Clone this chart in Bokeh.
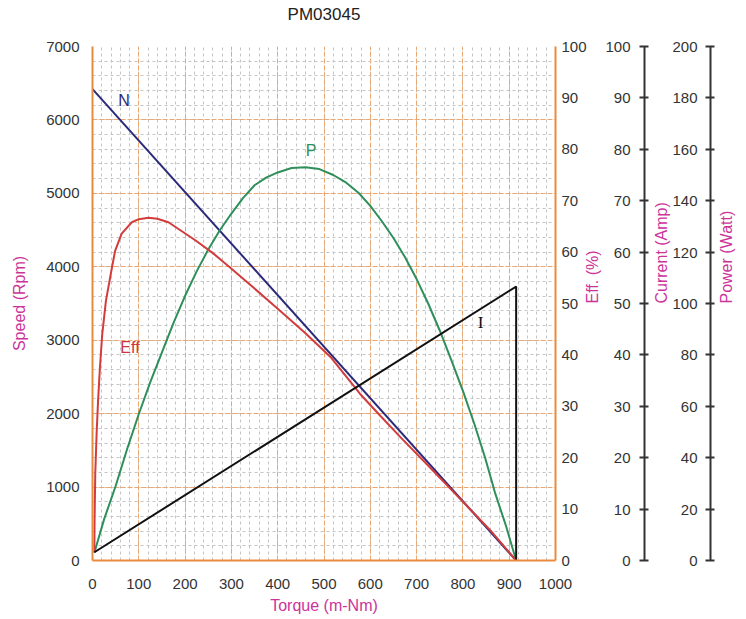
import math
from bokeh.plotting import figure
from bokeh.models import Range1d, LinearAxis, FixedTicker, SingleIntervalTicker, ColumnDataSource, Title
from bokeh.embed import file_html
from bokeh.resources import INLINE
from bokeh.core.properties import value

# ---------------- data ----------------
title_text = "PM03045"
torque_ticks = [0, 100, 200, 300, 400, 500, 600, 700, 800, 900, 1000]
speed_ticks = [0, 1000, 2000, 3000, 4000, 5000, 6000, 7000]
eff_ticks = [0, 10, 20, 30, 40, 50, 60, 70, 80, 90, 100]
cur_ticks = [0, 10, 20, 30, 40, 50, 60, 70, 80, 90, 100]
pow_ticks = [0, 20, 40, 60, 80, 100, 120, 140, 160, 180, 200]

# Speed N (rpm) vs torque (m-Nm)
n_torque = [0, 915]
n_speed = [6420, 0]

# Current I (A)
i_torque = [4, 915, 915]
i_current = [1.6, 53.3, 0]

# Efficiency (%)
eff_torque = [4, 4.5, 6, 9, 12, 16, 21, 29, 42, 49, 63, 85, 100, 121, 140, 164, 189,
              222, 260, 297, 350, 405, 460, 514, 578, 620, 665, 730, 795, 860, 915]
eff_values = [1.6, 8, 17, 25, 31, 37.5, 44, 50.5, 57, 60.3, 63.6, 65.8, 66.4, 66.7, 66.5,
              65.8, 64.3, 62.3, 59.8, 57, 52.9, 48.6, 44.2, 39.6, 32.4, 28.3, 24, 18, 11.9,
              5.8, 0]

# Output power (W)
p_torque = [4, 25, 50, 75, 100, 125, 150, 175, 200, 225, 250, 275, 300, 325, 350, 375,
            400, 430, 460, 490, 520, 548, 575, 600, 625, 650, 675, 700, 725, 750, 775,
            800, 825, 848, 870, 893, 915]
p_power = [3, 16, 29, 43.5, 57, 69.5, 81, 92.5, 103, 112.5, 121, 128.5, 135, 141, 146,
           149, 151, 152.7, 153, 152.3, 150, 147, 143, 138, 132, 125.5, 118, 109.5, 100,
           89.5, 78, 66, 53, 40, 26, 13.5, 0]

# curve labels (torque, speed-scale position)
lbl_text = ["N", "P", "Eff"]
lbl_torque = [68, 472, 81]
lbl_speed = [6265, 5584, 2901]
lbl_color = ["#2b2a7a", "#2f8f5b", "#cc3344"]
i_lbl_torque = [838]
i_lbl_speed = [3241]

# ---------------- styling ----------------
FONT = "Liberation Sans"
ORANGE = "#e98b3f"
GRID_ORANGE = "#eda76e"
GRID_GRAY = "#c4c4c4"
MAGENTA = "#cc3399"
TICK_COLOR = "#333333"
TICK_SIZE = "15px"

p = figure(width=746, height=619,
           x_range=Range1d(0, 1000), y_range=Range1d(0, 7000),
           output_backend="svg", toolbar_location=None,
           min_border_left=92, min_border_top=46, min_border_bottom=59, min_border_right=0,
           title=None)
p.outline_line_color = None
p.background_fill_color = "white"

# spacer (nearest the frame) and the chart title above it
p.add_layout(Title(text=" ", text_font_size="10px", standoff=10), "above")
p.add_layout(Title(text=title_text, text_font=FONT, text_font_size="17px",
                   text_font_style="normal", text_color="#222222",
                   align="center", standoff=0), "above")

p.extra_y_ranges = {"eff": Range1d(0, 100), "cur": Range1d(0, 100), "pow": Range1d(0, 200)}

# grids
for g in (p.xgrid, p.ygrid):
    g.grid_line_color = GRID_ORANGE
    g.grid_line_dash = "5 2"
    g.grid_line_width = 1
    g.minor_grid_line_color = GRID_GRAY
    g.minor_grid_line_dash = "3 3"
    g.minor_grid_line_width = 1

def style_axis(ax, label, standoff, label_standoff):
    ax.axis_line_color = ORANGE
    ax.axis_line_width = 2
    ax.major_tick_in = 0
    ax.major_tick_out = 0
    ax.minor_tick_in = 0
    ax.minor_tick_out = 0
    ax.major_label_text_font = FONT
    ax.major_label_text_font_size = TICK_SIZE
    ax.major_label_text_color = TICK_COLOR
    ax.major_label_standoff = standoff
    ax.axis_label = label
    ax.axis_label_text_font = FONT
    ax.axis_label_text_font_size = "16px"
    ax.axis_label_text_font_style = "normal"
    ax.axis_label_text_color = MAGENTA
    ax.axis_label_standoff = label_standoff

xa = p.xaxis[0]
xa.ticker = SingleIntervalTicker(interval=100, num_minor_ticks=5)
style_axis(xa, "Torque (m-Nm)", 18, 5)

ya = p.yaxis[0]
ya.ticker = SingleIntervalTicker(interval=1000, num_minor_ticks=5)
style_axis(ya, "Speed (Rpm)", 13, 15)

# Eff axis (right edge of frame)
eff_ax = LinearAxis(y_range_name="eff", ticker=FixedTicker(ticks=eff_ticks))
style_axis(eff_ax, "Eff. (%)", 6, 3)
eff_ax.axis_label_orientation = math.pi / 2
eff_ax.axis_label_text_line_height = 1.0
p.add_layout(eff_ax, "right")

def pad(t, tail):
    s = str(t)
    return "\u2007" * (3 - len(s)) + s + tail

def label_axis(rng, ticks, standoff, tail):
    ax = LinearAxis(y_range_name=rng, ticker=FixedTicker(ticks=ticks))
    ax.axis_line_color = None
    ax.major_tick_line_color = None
    ax.major_tick_in = 0
    ax.major_tick_out = 0
    ax.minor_tick_line_color = None
    ax.major_label_text_font = FONT
    ax.major_label_text_font_size = TICK_SIZE
    ax.major_label_text_color = TICK_COLOR
    ax.major_label_standoff = standoff
    ax.major_label_overrides = {t: pad(t, tail) for t in ticks}
    return ax

def line_axis(rng, ticks, label, label_standoff):
    ax = LinearAxis(y_range_name=rng, ticker=FixedTicker(ticks=ticks))
    ax.axis_line_color = TICK_COLOR
    ax.axis_line_width = 2
    ax.major_tick_line_color = TICK_COLOR
    ax.major_tick_line_width = 2
    ax.major_tick_in = 5
    ax.major_tick_out = 4
    ax.minor_tick_line_color = None
    ax.major_label_standoff = 0
    ax.major_label_text_font_size = "1px"
    ax.major_label_overrides = {t: "" for t in ticks}
    ax.axis_label = label
    ax.axis_label_text_font = FONT
    ax.axis_label_text_font_size = "16px"
    ax.axis_label_text_font_style = "normal"
    ax.axis_label_text_color = MAGENTA
    ax.axis_label_standoff = label_standoff
    ax.axis_label_orientation = math.pi / 2
    ax.axis_label_text_line_height = 1.0
    return ax

p.add_layout(label_axis("cur", cur_ticks, -7, "\u2007\u2009"), "right")
p.add_layout(line_axis("cur", cur_ticks, "Current (Amp)", 13), "right")
p.add_layout(label_axis("pow", pow_ticks, -9, "\u2007\u200a"), "right")
p.add_layout(line_axis("pow", pow_ticks, "Power (Watt)", 12), "right")

# ---------------- curves ----------------
p.line(n_torque, n_speed, line_color="#2b2a7a", line_width=2)
p.line(p_torque, p_power, line_color="#2f8f5b", line_width=2, y_range_name="pow")
p.line(eff_torque, eff_values, line_color="#d23c3c", line_width=2, y_range_name="eff")
p.line(i_torque, i_current, line_color="#111111", line_width=2, y_range_name="cur")

src = ColumnDataSource(dict(x=lbl_torque, y=lbl_speed, t=lbl_text, c=lbl_color))
p.text(x="x", y="y", text="t", text_color="c", source=src,
       text_font=value(FONT), text_font_size="16px",
       text_align="center", text_baseline="middle")
p.text(x=i_lbl_torque, y=i_lbl_speed, text=["I"], text_color="#111111",
       text_font=value("Liberation Serif"), text_font_size="17px",
       text_align="center", text_baseline="middle")

open("out.html", "w").write(file_html(p, INLINE))
